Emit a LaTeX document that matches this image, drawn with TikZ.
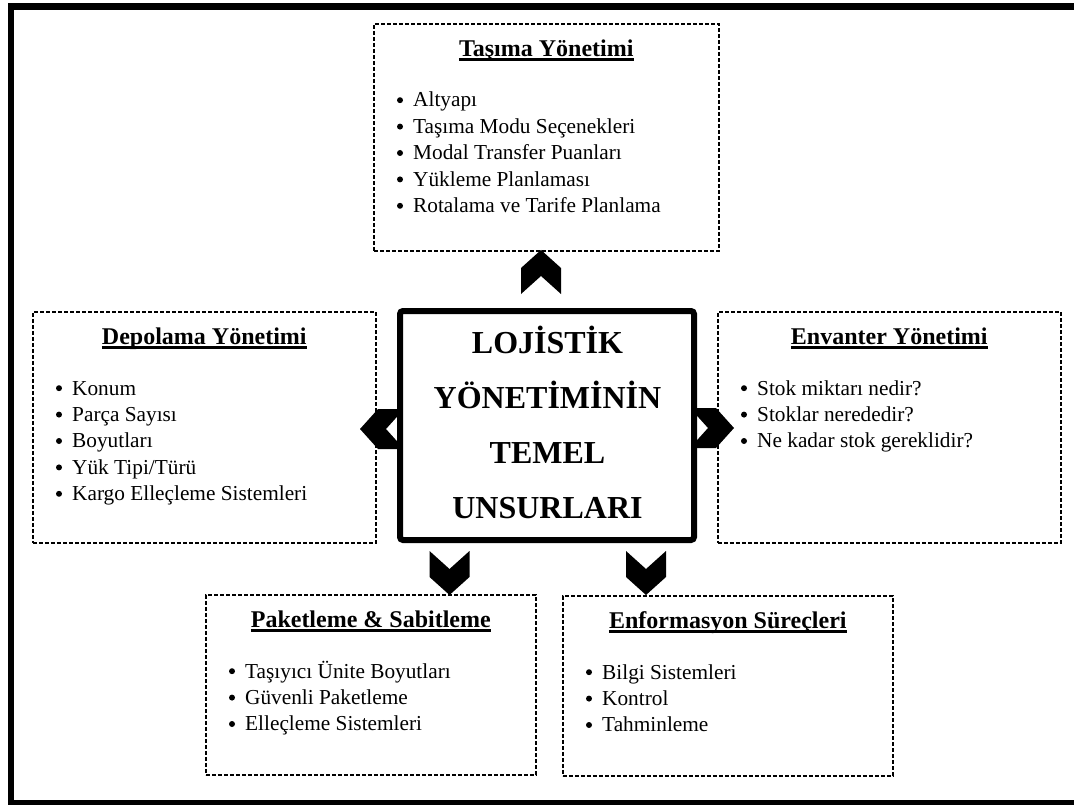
\documentclass[tikz,border=0pt]{standalone}
\usepackage{fontspec}
\setmainfont{Liberation Serif}
\usetikzlibrary{calc}
\newcommand\boxitems[2]{%
  \foreach \t [count=\i from 0] in {#2}{%
    \fill ($(#1.north west)+(27,{84+\i*26.4-6.8})$) circle (3pt);
    \node[item] (#1-\i) at ($(#1.north west)+(40,{84+\i*26.4})$) {\t};
  }}
\newcommand\boxtitle[2]{%
  \node[ttl] (#1-t) at ($(#1.north)+(0,33.5)$) {#2};
  \draw[line width=2.2pt] ($(#1-t.base west)+(0,3)$) -- ($(#1-t.base east)+(0,3)$);}
\newcommand\chevron[2]{%
  \fill[shift={(#1)}, rotate=#2] (0,0) -- (20,18) -- (20,44) -- (0,26) -- (-20,44) -- (-20,18) -- cycle;}
\begin{document}
\begin{tikzpicture}[x=1pt,y=-1pt,
  dbox/.style={draw, dash pattern=on 3.8pt off 2.2pt, line width=1.6pt, rectangle, inner sep=0pt, anchor=north west},
  ttl/.style={font=\fontsize{24}{28}\selectfont\bfseries, anchor=base, inner sep=0pt},
  item/.style={font=\fontsize{21.3}{26.4}\selectfont, anchor=base west, inner sep=0pt},
  ctext/.style={font=\fontsize{32}{38}\selectfont\bfseries, anchor=base, inner sep=0pt},
]
\useasboundingbox (0,0) rectangle (1074,805);
\fill[white] (0,0) rectangle (1074,805);
% outer frame
\draw[line width=6.5pt] (11,6.5) rectangle (1090,803.5);

% dashed boxes
\node[dbox, minimum width=345pt, minimum height=227pt] (tb) at (373,23) {};
\node[dbox, minimum width=343pt, minimum height=231pt] (lb) at (32,311) {};
\node[dbox, minimum width=343pt, minimum height=231pt] (rb) at (717,311) {};
\node[dbox, minimum width=330pt, minimum height=180pt] (pb) at (205,594) {};
\node[dbox, minimum width=330pt, minimum height=180pt] (eb) at (562,595) {};

% chevrons
\chevron{541,250}{0}
\chevron{360,429}{90}
\chevron{734,428}{-90}
\chevron{449.5,595}{180}
\chevron{646,595}{180}

% centre box
\node[draw, fill=white, line width=6pt, rounded corners=3pt, rectangle, inner sep=0pt,
      minimum width=294pt, minimum height=229pt] (c) at (547,425.5) {};
\node[ctext] (c1) at (547.5,353) {LOJİSTİK};
\node[ctext] (c2) at (547.5,408) {YÖNETİMİNİN};
\node[ctext] (c3) at (547.5,463) {TEMEL};
\node[ctext] (c4) at (547.5,518) {UNSURLARI};

% titles and items
\boxtitle{tb}{Taşıma Yönetimi}
\boxitems{tb}{Altyapı,Taşıma Modu Seçenekleri,Modal Transfer Puanları,Yükleme Planlaması,Rotalama ve Tarife Planlama}
\boxtitle{lb}{Depolama Yönetimi}
\boxitems{lb}{Konum,Parça Sayısı,Boyutları,Yük Tipi/Türü,Kargo Elleçleme Sistemleri}
\boxtitle{rb}{Envanter Yönetimi}
\boxitems{rb}{Stok miktarı nedir?,Stoklar nerededir?,Ne kadar stok gereklidir?}
\boxtitle{pb}{Paketleme \& Sabitleme}
\boxitems{pb}{Taşıyıcı Ünite Boyutları,Güvenli Paketleme,Elleçleme Sistemleri}
\boxtitle{eb}{Enformasyon Süreçleri}
\boxitems{eb}{Bilgi Sistemleri,Kontrol,Tahminleme}
\end{tikzpicture}
\end{document}
